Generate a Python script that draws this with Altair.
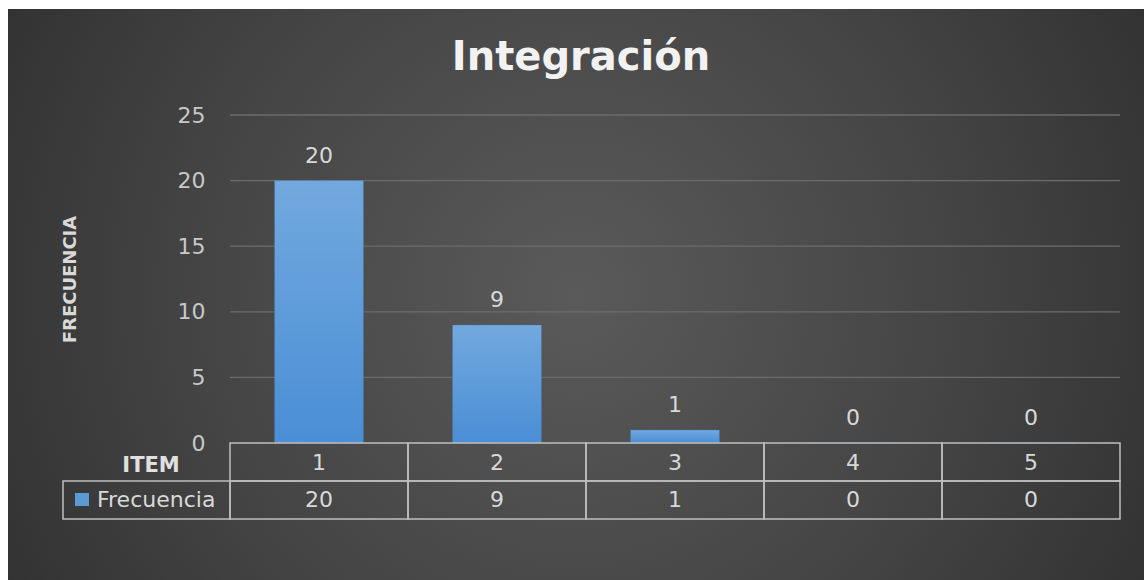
import altair as alt
import pandas as pd

# ---- data ----
items = ["1", "2", "3", "4", "5"]
frecuencia = [20, 9, 1, 0, 0]
y_ticks = [0, 5, 10, 15, 20, 25]
grid_values = [5, 10, 15, 20, 25]
title_text = "Integración"
y_title = "FRECUENCIA"
row_header = "ITEM"
series_name = "Frecuencia"

df = pd.DataFrame({"item": items, "value": frecuencia})
grid_df = pd.DataFrame({"v": grid_values})
one = pd.DataFrame({"k": [0]})

W, H = 890, 328
FONT = "DejaVu Sans"
TXT = "#d9d9d9"
LINE = "#bfbfbf"
BLUE = "#5b9bd5"
NUM = 22

xenc = alt.X("item:O", sort=items,
             scale=alt.Scale(paddingInner=0, paddingOuter=0), axis=None)
yscale = alt.Scale(domain=[0, 25], nice=False, zero=True)
yaxis = alt.Axis(values=y_ticks, grid=False, domain=False, ticks=False, zindex=2,
                 labelPadding=25, labelFont=FONT, labelFontSize=NUM,
                 labelColor="#c8c8c8",
                 title=y_title, titleFont=FONT, titleFontSize=18,
                 titleFontWeight="bold", titleColor=TXT,
                 titleX=-160, titleY=H / 2, titleAngle=270,
                 titleAlign="center", titleBaseline="middle")

bg = alt.Chart(one).mark_rect(
    fill=alt.Gradient(
        gradient="radial",
        stops=[alt.GradientStop(color="#5a5a5a", offset=0),
               alt.GradientStop(color="#444444", offset=0.45),
               alt.GradientStop(color="#242424", offset=1)],
        x1=0.5, y1=0.5, r1=0, x2=0.5, y2=0.5, r2=0.75)
).encode(x=alt.value(-222), x2=alt.value(914), y=alt.value(-106), y2=alt.value(465))

grid = alt.Chart(grid_df).mark_rule(color="#6c6c6c", strokeWidth=1.3).encode(
    y=alt.Y("v:Q", scale=yscale, axis=yaxis), x=alt.value(0), x2=alt.value(W))

bars = alt.Chart(df).mark_bar(
    width=alt.RelativeBandSize(0.5),
    fill=alt.Gradient(
        gradient="linear",
        stops=[alt.GradientStop(color="#72a9de", offset=0),
               alt.GradientStop(color="#4a8ed5", offset=1)],
        x1=0, y1=0, x2=0, y2=1),
    stroke="#3f6f9f", strokeOpacity=0.35, strokeWidth=1
).encode(
    x=xenc,
    y=alt.Y("value:Q", scale=yscale, axis=yaxis),
)

bar_labels = alt.Chart(df).mark_text(
    dy=-25, baseline="middle", font=FONT, fontSize=NUM, color=TXT
).encode(x=xenc, y=alt.Y("value:Q", scale=yscale, axis=yaxis), text="value:Q")

row1_cells = alt.Chart(df).mark_rect(fill="transparent", stroke=LINE, strokeWidth=1.5).encode(
    x=xenc, y=alt.value(H), y2=alt.value(H + 38))
row2_cells = alt.Chart(df).mark_rect(fill="transparent", stroke=LINE, strokeWidth=1.5).encode(
    x=xenc, y=alt.value(H + 38), y2=alt.value(H + 76))
name_cell = alt.Chart(one).mark_rect(fill="transparent", stroke=LINE, strokeWidth=1.5).encode(
    x=alt.value(-167), x2=alt.value(0), y=alt.value(H + 38), y2=alt.value(H + 76))

row1_text = alt.Chart(df).mark_text(baseline="middle", font=FONT, fontSize=NUM, color=TXT).encode(
    x=xenc, y=alt.value(H + 20), text="item:N")
row2_text = alt.Chart(df).mark_text(baseline="middle", font=FONT, fontSize=NUM, color=TXT).encode(
    x=xenc, y=alt.value(H + 57), text="value:Q")

header_text = alt.Chart(one).mark_text(
    text=row_header, baseline="middle", align="center", font=FONT, fontSize=21,
    fontWeight="bold", color="#e0e0e0"
).encode(x=alt.value(-79), y=alt.value(H + 23))

legend_sym = alt.Chart(one).mark_rect(fill=BLUE).encode(
    x=alt.value(-155), x2=alt.value(-141), y=alt.value(H + 50), y2=alt.value(H + 63))
legend_text = alt.Chart(one).mark_text(
    text=series_name, baseline="middle", align="left", font=FONT, fontSize=NUM, color=TXT
).encode(x=alt.value(-133), y=alt.value(H + 57))

title = alt.Chart(one).mark_text(
    text=title_text, baseline="middle", align="center", font=FONT, fontSize=40,
    fontWeight="bold", color="#f2f2f2"
).encode(x=alt.value(351), y=alt.value(-57))

chart = alt.layer(
    bg, grid, bars, bar_labels, row1_cells, row2_cells, name_cell,
    row1_text, row2_text, header_text, legend_sym, legend_text, title
).properties(
    width=W, height=H,
    padding={"left": 230, "top": 115, "right": 24, "bottom": 137},
    autosize=alt.AutoSizeParams(type="none"),
    background="white",
).configure_view(strokeWidth=0)

chart.save("out.html", embed_options={"renderer": "svg", "actions": False})
